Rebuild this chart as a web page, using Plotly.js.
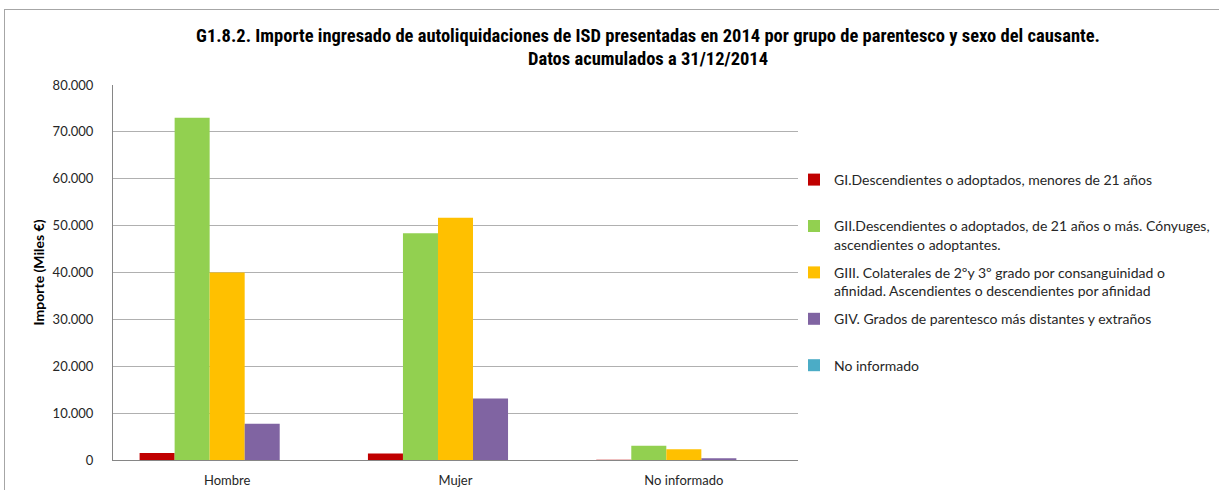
<!DOCTYPE html>
<html>
<head>
<meta charset="utf-8">
<script src="https://cdn.plot.ly/plotly-3.0.1.min.js"></script>
<style>
html, body { margin: 0; padding: 0; background: #fff; }
#frame { position: absolute; left: 4px; top: 9px; width: 1230px; height: 500px; border-top: 1px solid #a6a6a6; border-left: 1px solid #a6a6a6; }
#chart { position: absolute; left: 0; top: 0; width: 1219px; height: 490px; }
</style>
</head>
<body>
<div id="frame"></div>
<div id="chart"></div>
<script>
const categories = ["Hombre", "Mujer", "No informado"];
const titleLines = [
  "G1.8.2. Importe ingresado de autoliquidaciones de ISD presentadas en 2014 por grupo de parentesco y sexo del causante.",
  "Datos acumulados a 31/12/2014"
];
const seriesNames = [
  "GI.Descendientes o adoptados, menores de 21 años",
  "GII.Descendientes o adoptados, de 21 años o más. Cónyuges,<br>ascendientes o adoptantes.",
  "GIII. Colaterales de 2ºy 3º grado por consanguinidad o<br>afinidad. Ascendientes o descendientes por afinidad",
  "GIV. Grados de parentesco más distantes y extraños",
  "No informado"
];
const gI   = [1500, 1400, 60];
const gII  = [73000, 48400, 3050];
const gIII = [40000, 51700, 2280];
const gIV  = [7750, 13100, 380];
const gNI  = [0, 0, 0];
const seriesColors = ["#C00000", "#92D050", "#FFC000", "#8064A2", "#4BACC6"];
const seriesValues = [gI, gII, gIII, gIV, gNI];
const yTicks = [0, 10000, 20000, 30000, 40000, 50000, 60000, 70000, 80000];

const lineCounts = seriesNames.map(n => n.split("<br>").length);
const traces = seriesValues.map((vals, i) => ({
  type: "bar",
  name: seriesNames[i] + (lineCounts[i] < 2 ? "<br>\u00a0" : ""),
  legendgroup: "g" + i,
  x: categories,
  y: vals,
  marker: { color: seriesColors[i], line: { width: 0 } },
  hoverinfo: "y"
}));

const titleFont = { family: "'Liberation Sans Narrow', 'Arial Narrow', 'Roboto Condensed', sans-serif", size: 18.5, color: "#000" };
// plot area: y pixel 85 (80.000) to 460 (0)
const pyToPaper = p => (460 - p) / 375;

const layout = {
  width: 1219,
  height: 490,
  paper_bgcolor: "rgba(0,0,0,0)",
  plot_bgcolor: "rgba(0,0,0,0)",
  margin: { l: 113, r: 421, t: 85, b: 30, autoexpand: false },
  separators: ",.",
  barmode: "group",
  bargap: 0.233,
  bargroupgap: 0,
  font: { family: "Lato, 'Open Sans', sans-serif", size: 13, color: "#262626" },
  title: {
    text: "<b>" + titleLines[0] + "</b>",
    font: titleFont,
    xref: "paper", x: 0.781, xanchor: "center",
    yref: "container", y: 1 - 36 / 490, yanchor: "middle"
  },
  annotations: [{
    text: "<b>" + titleLines[1] + "</b>",
    font: titleFont,
    xref: "paper", x: 0.781, xanchor: "center",
    yref: "paper", y: pyToPaper(58.5), yanchor: "middle",
    showarrow: false
  }],
  xaxis: {
    type: "category",
    showgrid: false,
    showline: true, linecolor: "#868686", linewidth: 1,
    ticks: "", ticklabelstandoff: 8,
    tickfont: { size: 13, color: "#262626" },
    fixedrange: true
  },
  yaxis: {
    range: [0, 80000],
    tickvals: yTicks,
    tickformat: ",d",
    showgrid: true, gridcolor: "#b0b0b0", gridwidth: 1,
    showline: true, linecolor: "#868686", linewidth: 1,
    zeroline: false,
    ticks: "", ticklabelstandoff: 16,
    tickfont: { size: 13, color: "#262626" },
    title: { text: "<b>Importe (Miles €)</b>", font: { size: 14, color: "#000" }, standoff: 4 },
    automargin: false,
    fixedrange: true
  },
  legend: {
    x: 1 - 4 / 685, xanchor: "left", y: pyToPaper(164), yanchor: "top",
    valign: "top",
    font: { size: 14, color: "#262626" },
    bgcolor: "rgba(0,0,0,0)",
    tracegroupgap: 7,
    itemclick: false, itemdoubleclick: false
  },
  showlegend: true
};

Plotly.newPlot("chart", traces, layout, { displayModeBar: false, staticPlot: true });
</script>
</body>
</html>
